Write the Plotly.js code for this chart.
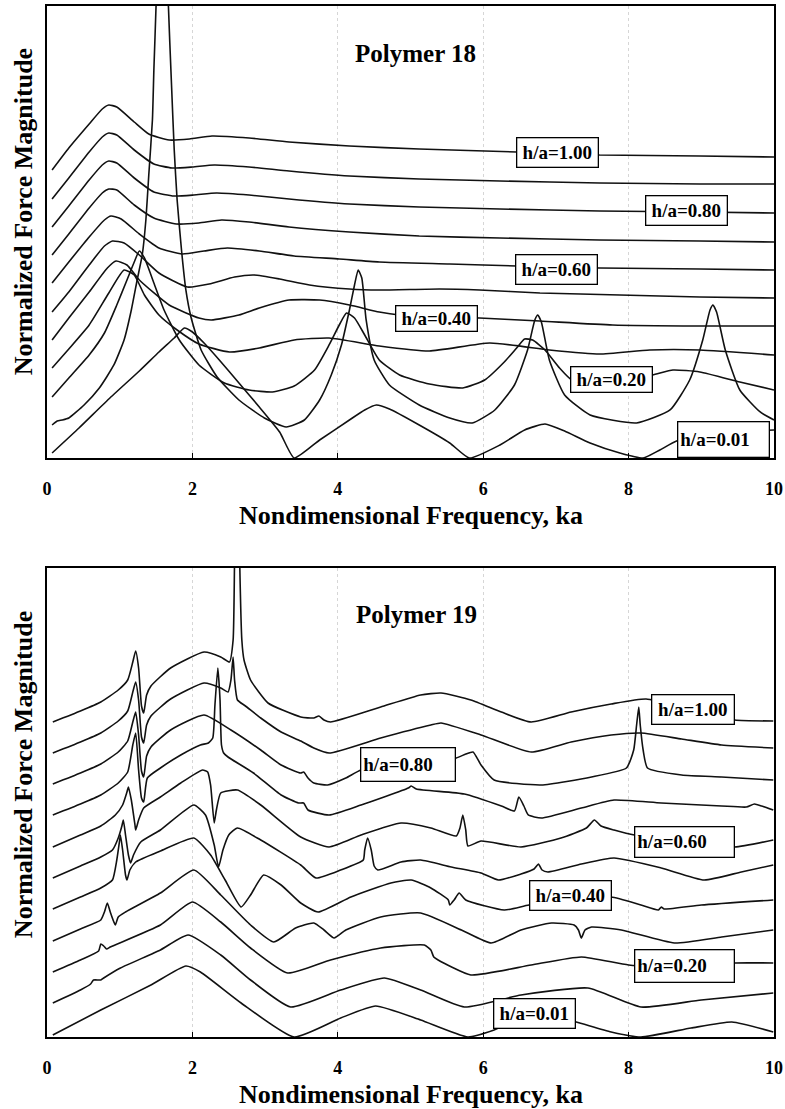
<!DOCTYPE html>
<html>
<head>
<meta charset="utf-8">
<script src="https://cdn.plot.ly/plotly-3.0.1.min.js"></script>
<style>
  html, body { margin: 0; padding: 0; background: #fff; }
  #chart { width: 785px; height: 1109px; }
</style>
</head>
<body>
<div id="chart"></div>
<script>
// ---------- Polymer 18: force magnitude vs ka, one curve per h/a (stacked) ----------
const p18Ka100 = [0.07,0.30,0.58,0.76,0.85,0.96,1.20,1.40,1.68,1.96,2.27,2.78,3.33,4.16,5.12,6.46,7.60,8.98,10.0];
const p18Mag100 = [28.8,31.0,33.4,34.9,35.3,35.1,33.6,32.4,31.8,31.9,32.2,32.0,31.6,31.2,30.9,30.6,30.3,30.2,30.1];

const p18Ka090 = [0.07,0.30,0.58,0.76,0.85,0.96,1.20,1.47,1.72,2.00,2.30,2.78,3.33,4.16,5.12,6.23,7.60,8.98,10.0];
const p18Mag090 = [25.9,28.0,30.6,32.1,32.5,32.3,30.8,29.4,29.0,29.1,29.3,29.1,28.7,28.2,27.9,27.7,27.5,27.4,27.4];

const p18Ka080 = [0.07,0.30,0.58,0.76,0.85,0.96,1.20,1.47,1.75,2.02,2.33,2.78,3.33,4.16,5.12,6.23,7.60,8.98,10.0];
const p18Mag080 = [23.1,25.2,27.8,29.3,29.7,29.5,28.0,26.6,26.2,26.3,26.5,26.3,25.9,25.4,25.1,24.9,24.7,24.6,24.5];

const p18Ka070 = [0.07,0.30,0.58,0.76,0.85,0.96,1.20,1.47,1.78,2.09,2.40,2.78,3.33,4.16,5.12,6.23,7.60,8.98,10.0];
const p18Mag070 = [20.3,22.4,25.0,26.5,26.9,26.8,25.3,24.0,23.4,23.5,23.8,23.6,23.1,22.6,22.2,22.0,21.8,21.7,21.6];

const p18Ka060 = [0.07,0.30,0.58,0.79,0.88,1.02,1.27,1.54,1.86,2.16,2.48,2.92,3.40,4.02,4.57,5.54,6.46,7.60,8.98,10.0];
const p18Mag060 = [17.5,19.6,22.1,23.8,24.2,23.9,22.4,21.0,20.4,20.7,21.0,20.7,20.2,19.9,19.6,19.4,19.2,19.0,18.9,18.8];

const p18Ka050 = [0.07,0.30,0.58,0.79,0.90,1.06,1.27,1.54,1.93,2.23,2.58,2.85,3.20,3.61,4.16,4.57,5.40,5.95,6.78,7.88,8.98,10.0];
const p18Mag050 = [14.6,16.6,19.3,21.2,21.7,21.5,20.3,18.5,17.1,17.4,18.1,18.3,17.9,17.3,16.9,16.8,16.9,16.8,16.5,16.3,16.1,16.0];

const p18Ka040 = [0.07,0.30,0.58,0.83,0.95,1.10,1.27,1.68,2.09,2.26,2.64,2.92,3.33,3.75,4.16,4.57,4.85,5.95,6.78,7.78,8.98,10.0];
const p18Mag040 = [11.8,14.0,16.6,19.0,19.7,19.3,17.8,15.3,14.0,13.8,14.3,15.0,15.8,15.8,15.3,14.6,14.3,14.0,13.7,13.3,13.2,13.2];

const p18Ka030 = [0.07,0.30,0.58,0.85,1.06,1.20,1.34,1.54,1.79,2.09,2.51,2.92,3.40,3.88,4.57,5.26,6.09,6.91,7.60,8.29,8.98,10.0];
const p18Mag030 = [9.0,10.9,13.3,16.5,18.8,18.3,16.3,14.3,12.8,11.4,10.6,11.0,11.8,12.0,11.2,10.7,11.5,10.8,10.4,10.8,10.8,10.3];

const p18Ka020 = [0.07,0.30,0.58,0.79,0.96,1.10,1.20,1.27,1.34,1.47,1.61,1.82,2.09,2.44,2.78,3.10,3.40,3.68,3.88,4.02,4.12,4.23,4.37,4.57,4.85,5.26,5.72,6.02,6.29,6.46,6.57,6.68,6.85,7.05,7.22,7.60,8.02,8.33,8.61,8.98,9.53,10.0];
const p18Mag020 = [6.1,8.0,10.3,12.5,15.3,17.8,19.6,20.7,20.0,17.5,14.8,11.8,9.3,7.5,6.8,6.6,7.2,8.8,11.3,13.3,14.5,14.0,12.3,9.8,8.3,7.4,7.0,7.8,9.6,11.0,11.9,11.8,10.8,9.0,7.8,7.6,8.0,8.3,8.8,8.6,7.6,6.8];

const p18Ka010 = [0.07,0.14,0.21,0.30,0.51,0.72,0.92,1.06,1.16,1.24,1.31,1.36,1.40,1.45,1.47,1.50,1.54,1.58,1.63,1.67,1.71,1.75,1.79,1.85,1.91,1.98,2.12,2.34,2.64,2.99,3.29,3.54,3.75,3.91,4.05,4.16,4.23,4.28,4.33,4.39,4.50,4.71,5.12,5.54,5.85,6.16,6.43,6.61,6.71,6.75,6.80,6.91,7.12,7.47,8.11,8.57,8.84,9.02,9.12,9.16,9.21,9.33,9.53,9.81,10.0];
const p18Mag010 = [3.3,3.7,3.8,4.0,5.3,7.0,9.3,11.8,14.8,17.8,20.3,23.8,28.3,33.8,38.8,45.2,57.8,75.8,57.8,45.2,37.8,30.8,25.8,20.8,16.8,14.1,10.8,8.1,5.8,4.0,3.1,3.8,5.8,8.3,11.3,14.8,17.3,18.8,18.0,13.8,9.8,7.3,5.3,4.0,3.5,4.8,7.3,10.8,13.8,14.3,13.6,9.8,6.3,4.3,3.5,4.8,7.8,11.8,14.8,15.3,14.6,10.8,6.8,4.6,3.8];

const p18Ka001 = [0.07,0.44,0.85,1.27,1.54,1.75,1.89,2.00,2.16,2.37,2.64,2.92,3.20,3.40,3.75,4.16,4.37,4.53,4.71,5.12,5.54,5.81,6.23,6.57,6.85,7.12,7.47,7.88,8.20,8.43,8.66,9.26,10.0];
const p18Mag001 = [0.5,3.0,5.9,8.7,10.6,12.0,13.0,12.6,11.5,9.8,7.5,5.1,2.6,0.0,1.8,3.8,4.8,5.3,4.9,3.3,1.5,0.0,1.3,2.8,3.4,2.7,1.5,0.5,0.0,0.8,1.7,2.6,2.8];

// ---------- Polymer 19 ----------
const p19Ka100 = [0.08,0.46,0.74,0.98,1.11,1.18,1.22,1.26,1.30,1.33,1.37,1.43,1.70,2.16,2.39,2.51,2.56,2.58,2.62,2.65,2.68,2.71,2.80,3.04,3.49,3.67,3.74,3.81,3.90,4.59,5.14,5.42,5.83,6.25,6.66,7.21,7.76,8.24,8.86,9.46,9.99];
const p19Mag100 = [31.5,32.6,33.5,34.7,35.7,37.5,38.6,36.9,33.1,32.4,34.2,35.1,36.9,38.5,38.0,37.5,39.7,47.7,63.7,47.7,39.7,37.7,35.7,33.4,32.0,31.9,32.1,31.7,31.5,33.0,34.2,34.4,33.7,32.5,31.5,32.5,33.3,33.8,32.7,31.7,31.6];

const p19Ka090 = [0.08,0.46,0.74,0.98,1.11,1.18,1.22,1.26,1.30,1.33,1.37,1.43,1.70,2.16,2.39,2.49,2.53,2.56,2.58,2.62,2.73,2.94,3.22,3.49,3.67,3.88,4.59,5.28,5.42,5.97,6.66,7.21,7.76,8.17,8.73,9.28,9.99];
const p19Mag090 = [28.4,29.5,30.4,31.6,32.6,34.5,35.5,33.7,30.0,29.4,31.2,32.1,33.8,35.4,34.9,34.5,35.7,38.0,35.7,33.7,33.1,31.9,30.5,29.6,28.9,28.4,29.9,31.2,31.4,30.2,28.5,29.5,30.2,30.4,29.8,29.2,28.9];

const p19Ka080 = [0.08,0.46,0.74,0.98,1.11,1.18,1.22,1.26,1.30,1.33,1.37,1.43,1.70,2.16,2.53,2.94,3.22,3.49,3.53,3.59,3.67,3.86,4.11,4.32,4.87,5.63,5.76,5.86,5.97,6.15,6.80,7.49,7.97,8.07,8.11,8.14,8.16,8.20,8.26,8.73,9.28,9.99];
const p19Mag080 = [25.3,26.4,27.3,28.5,29.6,31.5,32.5,30.2,26.6,26.0,28.1,29.0,30.7,32.2,30.7,28.7,27.2,26.4,26.5,25.9,25.4,25.2,25.9,26.7,27.2,27.9,28.3,28.5,27.2,25.7,25.2,26.0,26.9,28.7,31.2,33.0,31.2,28.7,26.9,26.2,26.0,25.7];

const p19Ka070 = [0.08,0.46,0.74,0.98,1.11,1.18,1.22,1.26,1.30,1.33,1.38,1.56,1.84,2.11,2.22,2.28,2.31,2.35,2.38,2.40,2.43,2.49,2.84,3.22,3.46,3.53,3.59,3.88,4.32,4.97,5.01,5.08,5.74,6.25,6.43,6.49,6.56,6.62,6.80,7.35,7.80,8.45,9.28,9.62,9.73,9.83,9.99];
const p19Mag070 = [22.2,23.3,24.2,25.4,26.5,29.2,30.4,26.7,23.9,23.5,25.9,26.9,28.2,29.2,29.4,29.9,33.2,36.9,33.7,29.2,28.4,28.0,26.4,24.2,23.4,23.4,22.7,22.2,23.2,24.9,25.1,24.8,24.3,23.1,22.6,24.0,23.1,22.2,21.9,22.9,23.7,23.4,23.1,23.0,23.3,23.1,22.7];

const p19Ka060 = [0.08,0.46,0.74,0.94,1.04,1.10,1.12,1.16,1.21,1.22,1.26,1.33,1.56,1.84,2.14,2.21,2.25,2.30,2.33,2.39,2.62,2.94,3.49,3.88,4.32,4.87,5.28,5.63,5.68,5.72,5.76,5.79,5.97,6.52,7.07,7.42,7.53,7.62,7.80,8.08,9.00,9.46,9.99];
const p19Mag060 = [19.0,20.2,21.1,22.2,23.2,24.5,25.0,23.7,21.2,20.7,21.7,22.9,24.0,25.4,26.7,26.5,25.2,21.4,22.7,24.4,24.7,23.2,20.0,19.0,20.2,21.4,20.9,20.1,20.9,22.2,20.7,19.1,19.6,19.0,19.9,20.9,21.7,21.1,20.7,20.2,19.4,19.0,19.7];

const p19Ka050 = [0.08,0.46,0.74,0.90,0.98,1.03,1.05,1.08,1.12,1.15,1.19,1.29,1.56,2.02,2.18,2.30,2.36,2.42,2.50,2.62,2.94,3.49,3.70,4.04,4.35,4.37,4.41,4.46,4.50,4.55,4.87,5.14,5.56,5.97,6.21,6.52,6.70,6.76,6.81,6.89,7.35,7.80,8.45,9.04,9.55,9.99];
const p19Mag050 = [15.9,17.1,18.0,18.7,19.9,21.1,21.7,20.2,18.2,17.4,18.2,19.5,20.7,23.2,22.2,19.2,17.0,18.7,20.2,20.9,19.7,17.2,15.9,16.7,17.7,18.7,19.9,18.7,17.1,16.7,17.5,17.7,17.0,16.4,15.7,16.3,16.8,17.3,16.7,16.5,17.3,17.9,16.9,15.7,16.5,17.2];

const p19Ka040 = [0.08,0.46,0.74,0.90,0.96,1.00,1.01,1.04,1.08,1.10,1.14,1.22,1.56,2.02,2.25,2.45,2.67,2.80,2.98,3.22,3.49,3.73,4.18,4.73,5.01,5.28,5.52,5.54,5.60,5.67,5.76,6.29,6.63,7.21,7.76,8.17,8.41,8.45,8.49,9.00,9.99];
const p19Mag040 = [12.8,14.0,14.9,15.7,17.7,19.7,20.2,18.7,16.2,15.7,16.7,17.5,18.6,19.9,18.2,15.7,13.0,14.2,16.2,15.2,13.4,12.5,14.0,15.4,15.7,14.9,13.7,13.2,13.7,14.4,13.7,12.7,13.2,13.6,14.0,13.2,12.7,13.0,12.8,13.2,13.7];

const p19Ka030 = [0.08,0.46,0.74,0.79,0.83,0.87,0.92,0.94,0.98,1.08,1.56,2.02,2.39,2.80,3.12,3.42,3.67,3.81,3.95,4.11,4.59,5.14,5.70,6.11,6.52,6.94,7.25,7.31,7.35,7.40,7.49,7.90,8.63,9.28,9.99];
const p19Mag030 = [9.6,10.8,11.7,12.5,13.4,12.5,11.5,11.2,12.0,12.5,14.4,16.7,14.2,11.2,9.5,10.9,11.4,10.7,9.9,10.7,12.0,12.4,10.7,9.4,10.7,11.4,11.2,10.7,9.9,10.7,11.0,10.7,9.4,10.0,10.7];

const p19Ka020 = [0.08,0.46,0.71,0.74,0.78,0.82,0.87,1.56,2.00,2.39,2.80,3.31,3.90,4.59,5.19,5.28,5.32,5.38,5.83,6.66,7.35,8.00,8.73,9.46,9.99];
const p19Mag020 = [6.5,7.7,8.6,9.3,9.1,8.8,9.0,11.2,13.5,11.5,8.9,6.4,7.7,8.9,9.2,8.7,8.0,7.7,6.2,7.2,8.0,7.2,6.9,7.4,7.4];

const p19Ka010 = [0.08,0.46,0.60,0.64,0.74,0.78,1.01,1.56,1.94,2.39,2.80,3.35,4.04,4.64,5.14,5.74,6.52,7.44,8.17,9.00,9.99];
const p19Mag010 = [3.4,4.7,5.3,5.7,5.7,5.9,6.9,8.7,10.2,8.2,5.7,3.0,4.7,5.9,4.7,3.0,4.2,4.9,3.0,3.7,4.4];

const p19Ka001 = [0.08,0.74,1.43,1.91,2.11,2.67,3.40,4.04,4.52,5.14,5.79,6.15,6.73,7.28,7.76,8.17,8.86,9.42,9.99];
const p19Mag001 = [0.2,2.7,5.2,7.1,6.5,3.4,0.0,1.9,3.1,1.7,0.0,0.7,2.5,1.5,0.5,0.0,0.9,1.5,0.5];

// axis ticks
const tickVals = [0, 2, 4, 6, 8, 10];
const tickText = ['0', '2', '4', '6', '8', '10'];

// ---------- figure ----------
const serif = 'Liberation Serif, Times New Roman, serif';
const lineStyle = { color: '#111', width: 1.6, shape: 'spline', smoothing: 0.5 };

const topSeries = [
  [p18Ka100, p18Mag100], [p18Ka090, p18Mag090], [p18Ka080, p18Mag080],
  [p18Ka070, p18Mag070], [p18Ka060, p18Mag060], [p18Ka050, p18Mag050],
  [p18Ka040, p18Mag040], [p18Ka030, p18Mag030], [p18Ka020, p18Mag020],
  [p18Ka010, p18Mag010], [p18Ka001, p18Mag001]
];
const bottomSeries = [
  [p19Ka100, p19Mag100], [p19Ka090, p19Mag090], [p19Ka080, p19Mag080],
  [p19Ka070, p19Mag070], [p19Ka060, p19Mag060], [p19Ka050, p19Mag050],
  [p19Ka040, p19Mag040], [p19Ka030, p19Mag030], [p19Ka020, p19Mag020],
  [p19Ka010, p19Mag010], [p19Ka001, p19Mag001]
];

const traces = [];
topSeries.forEach(([x, y]) => traces.push({
  x, y, type: 'scatter', mode: 'lines', line: lineStyle,
  xaxis: 'x', yaxis: 'y', hoverinfo: 'skip', showlegend: false
}));
bottomSeries.forEach(([x, y]) => traces.push({
  x, y, type: 'scatter', mode: 'lines', line: lineStyle,
  xaxis: 'x2', yaxis: 'y2', hoverinfo: 'skip', showlegend: false
}));

const xAxisStyle = {
  range: [0, 10], tickmode: 'array', tickvals: tickVals, ticktext: tickText,
  ticks: 'inside', ticklen: 5, tickwidth: 1.2, tickcolor: '#000',
  ticklabelstandoff: 14,
  tickfont: { family: serif, size: 18, color: '#000', weight: 'bold' },
  showline: true, mirror: true, linecolor: '#000', linewidth: 1.6,
  showgrid: true, gridcolor: '#d6d6d6', griddash: 'dot', gridwidth: 1,
  zeroline: false, fixedrange: true
};
const yAxisStyle = {
  showticklabels: false, ticks: '', showgrid: false, zeroline: false,
  showline: true, mirror: true, linecolor: '#000', linewidth: 1.6, fixedrange: true
};

// boxed h/a labels
function tag(text, x, y, xr, yr, w, h, align) {
  return {
    text: '<b>' + text + '</b>', x, y, xref: xr, yref: yr,
    showarrow: false, xanchor: 'center', yanchor: 'middle',
    width: w, height: h, align: align || 'center', valign: 'middle',
    bgcolor: '#fff', bordercolor: '#000', borderwidth: 1.3, borderpad: 2,
    font: { family: serif, size: 19, color: '#000' }
  };
}

const annotations = [
  tag('h/a=1.00', 7.02, 30.6, 'x', 'y', 76, 24),
  tag('h/a=0.80', 8.80, 24.8, 'x', 'y', 76, 24),
  tag('h/a=0.60', 7.01, 18.8, 'x', 'y', 76, 24),
  tag('h/a=0.40', 5.36, 13.9, 'x', 'y', 76, 20),
  tag('h/a=0.20', 7.77, 7.8, 'x', 'y', 76, 20),
  tag('h/a=0.01', 9.30, 1.8, 'x', 'y', 86, 30, 'left'),

  tag('h/a=1.00', 8.88, 32.7, 'x2', 'y2', 77, 24),
  tag('h/a=0.80', 4.97, 27.2, 'x2', 'y2', 89, 28, 'left'),
  tag('h/a=0.60', 8.77, 19.45, 'x2', 'y2', 94, 25, 'left'),
  tag('h/a=0.40', 7.20, 14.1, 'x2', 'y2', 76, 24),
  tag('h/a=0.20', 8.77, 7.05, 'x2', 'y2', 94, 27, 'left'),
  tag('h/a=0.01', 6.71, 2.3, 'x2', 'y2', 76, 24),

  { text: '<b>Polymer 18</b>', x: 5.07, y: 40.5, xref: 'x', yref: 'y', showarrow: false,
    font: { family: serif, size: 25, color: '#000' } },
  { text: '<b>Polymer 19</b>', x: 5.08, y: 42.2, xref: 'x2', yref: 'y2', showarrow: false,
    font: { family: serif, size: 25, color: '#000' } },

  { text: '<b>Nondimensional Frequency, ka</b>', x: 0.5, y: 0.5063, xref: 'paper', yref: 'paper',
    xanchor: 'center', yanchor: 'middle', showarrow: false,
    font: { family: serif, size: 26, color: '#000' } },
  { text: '<b>Nondimensional Frequency, ka</b>', x: 0.5, y: -0.0553, xref: 'paper', yref: 'paper',
    xanchor: 'center', yanchor: 'middle', showarrow: false,
    font: { family: serif, size: 26, color: '#000' } },

  { text: '<b>Normalized Force Magnitude</b>', textangle: -90, x: -0.033, y: 0.800,
    xref: 'paper', yref: 'paper', xanchor: 'center', yanchor: 'middle', showarrow: false,
    font: { family: serif, size: 26, color: '#000' } },
  { text: '<b>Normalized Force Magnitude</b>', textangle: -90, x: -0.033, y: 0.254,
    xref: 'paper', yref: 'paper', xanchor: 'center', yanchor: 'middle', showarrow: false,
    font: { family: serif, size: 26, color: '#000' } }
];

const layout = {
  width: 785, height: 1109,
  margin: { l: 47, r: 11, t: 6, b: 72 },
  paper_bgcolor: '#fff', plot_bgcolor: '#fff',
  showlegend: false,
  xaxis: Object.assign({}, xAxisStyle, { anchor: 'y', domain: [0, 1] }),
  yaxis: Object.assign({}, yAxisStyle, { anchor: 'x', domain: [0.5616, 1], range: [0, 45.2] }),
  xaxis2: Object.assign({}, xAxisStyle, { anchor: 'y2', domain: [0, 1] }),
  yaxis2: Object.assign({}, yAxisStyle, { anchor: 'x2', domain: [0, 0.4549], range: [0, 46.9] }),
  annotations
};

Plotly.newPlot('chart', traces, layout, { staticPlot: true, displayModeBar: false });
</script>
</body>
</html>
